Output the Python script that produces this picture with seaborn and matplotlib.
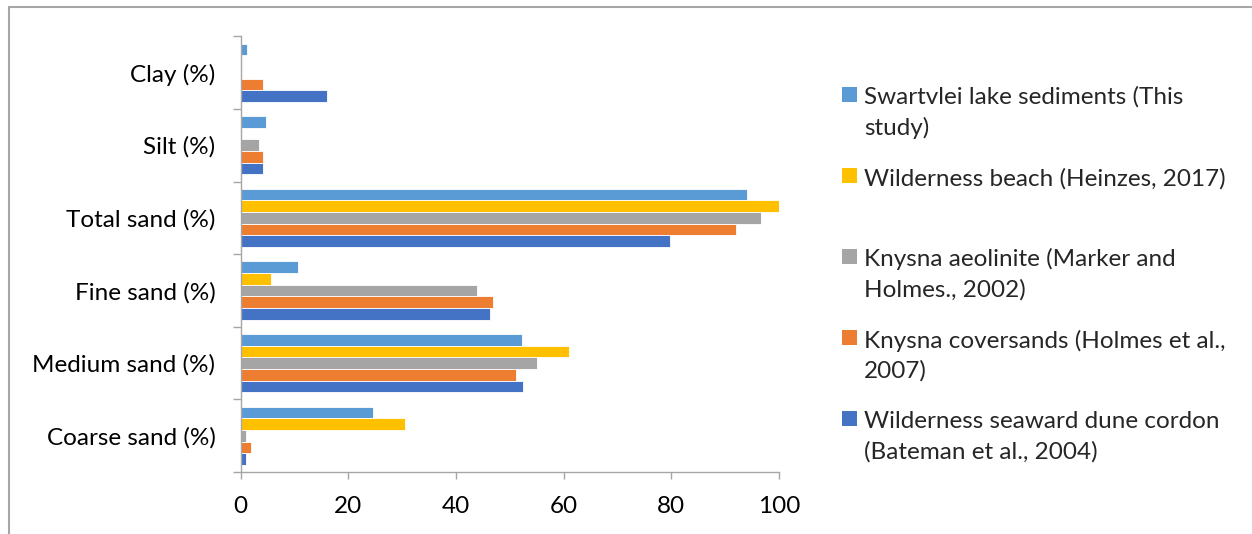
import matplotlib
matplotlib.use("Agg")
import matplotlib.pyplot as plt
import matplotlib.patches as mpatches
import matplotlib.lines as mlines
from matplotlib.legend_handler import HandlerBase
import seaborn as sns
import pandas as pd
import numpy as np

categories = ["Clay (%)", "Silt (%)", "Total sand (%)", "Fine sand (%)",
              "Medium sand (%)", "Coarse sand (%)"]
series = ["Swartvlei lake sediments (This study)",
          "Wilderness beach (Heinzes, 2017)",
          "Knysna aeolinite (Marker and Holmes., 2002)",
          "Knysna coversands (Holmes et al., 2007)",
          "Wilderness seaward dune cordon (Bateman et al., 2004)"]
legend_labels = ["Swartvlei lake sediments (This\nstudy)",
                 "Wilderness beach (Heinzes, 2017)\n",
                 "Knysna aeolinite (Marker and\nHolmes., 2002)",
                 "Knysna coversands (Holmes et al.,\n2007)",
                 "Wilderness seaward dune cordon\n(Bateman et al., 2004)"]
swartvlei = [1.2, 4.7, 94.1, 10.7, 52.2, 24.6]
wild_beach = [np.nan, np.nan, 100.0, 5.6, 61.0, 30.6]
knysna_aeol = [np.nan, 3.5, 96.6, 43.9, 55.0, 1.0]
knysna_cover = [4.1, 4.1, 92.0, 46.9, 51.1, 1.9]
wild_dune = [16.0, 4.1, 79.7, 46.3, 52.5, 1.0]
colors = ["#5B9BD5", "#FFC000", "#A5A5A5", "#ED7D31", "#4472C4"]
xticks = [0, 20, 40, 60, 80, 100]

values = [swartvlei, wild_beach, knysna_aeol, knysna_cover, wild_dune]
rows = []
for s, vals in zip(series, values):
    for c, v in zip(categories, vals):
        rows.append({"Category": c, "Series": s, "Value": v})
df = pd.DataFrame(rows)

sns.set_theme(style="white")
plt.rcParams["font.family"] = ["Lato", "DejaVu Sans"]

FS = 17.5
fig = plt.figure(figsize=(12.52, 5.34), dpi=100)
ax = fig.add_axes([240.5 / 1252, 1 - 472 / 534, 538.5 / 1252, 435.6 / 534])

sns.barplot(data=df, y="Category", x="Value", hue="Series",
            order=categories, hue_order=series, palette=colors,
            saturation=1, orient="h", width=0.8, ax=ax, legend=False,
            edgecolor="white", linewidth=0.6, errorbar=None)

ax.set_xlim(0, 100)
ax.set_ylim(len(categories) - 0.5, -0.5)
ax.set_xticks(xticks)
ax.set_xticklabels([str(t) for t in xticks])
ax.set_yticks(range(len(categories)))
ax.set_yticklabels(categories)
ax.set_yticks(np.arange(-0.5, len(categories), 1.0), minor=True)
ax.set_xlabel("")
ax.set_ylabel("")
ax.grid(False)

axis_color = "#A6A6A6"
for side in ["top", "right"]:
    ax.spines[side].set_visible(False)
for side in ["left", "bottom"]:
    ax.spines[side].set_visible(True)
    ax.spines[side].set_color(axis_color)
    ax.spines[side].set_linewidth(1.0)

ax.tick_params(axis="y", which="major", length=0, pad=18, labelsize=FS,
               labelcolor="#000000")
ax.tick_params(axis="y", which="minor", length=6, width=1.0, color=axis_color,
               direction="out", left=True)
ax.tick_params(axis="x", which="major", length=5, width=1.0, color=axis_color,
               direction="out", bottom=True, labelsize=FS, pad=12,
               labelcolor="#000000")


class TopSquareHandler(HandlerBase):
    def __init__(self, dy, **kw):
        super().__init__(**kw)
        self.dy = dy

    def create_artists(self, legend, orig_handle, xdescent, ydescent,
                       width, height, fontsize, trans):
        side = min(width, height)
        r = mpatches.Rectangle((-xdescent, -ydescent + self.dy), side, side,
                               facecolor=orig_handle.get_facecolor(),
                               edgecolor="none", transform=trans)
        return [r]


handles = [mpatches.Patch(facecolor=c, edgecolor="none") for c in colors]
handler = TopSquareHandler(dy=13.0)
leg = fig.legend(handles, legend_labels, loc="upper left",
                 bbox_to_anchor=(842 / 1252, 1 - 86 / 534),
                 frameon=False, fontsize=FS, handlelength=0.62,
                 handleheight=0.62, handletextpad=0.3, labelspacing=1.2,
                 borderpad=0, borderaxespad=0,
                 handler_map={mpatches.Patch: handler})
for t in leg.get_texts():
    t.set_linespacing(1.5)

# outer chart-area border
fig.add_artist(mlines.Line2D([9 / 1252, 9 / 1252], [-0.01, 1 - 7 / 534],
                             color=axis_color, linewidth=1.5,
                             transform=fig.transFigure))
fig.add_artist(mlines.Line2D([9 / 1252, 1.01], [1 - 7 / 534, 1 - 7 / 534],
                             color=axis_color, linewidth=1.5,
                             transform=fig.transFigure))

fig.savefig("out.png", dpi=100)
